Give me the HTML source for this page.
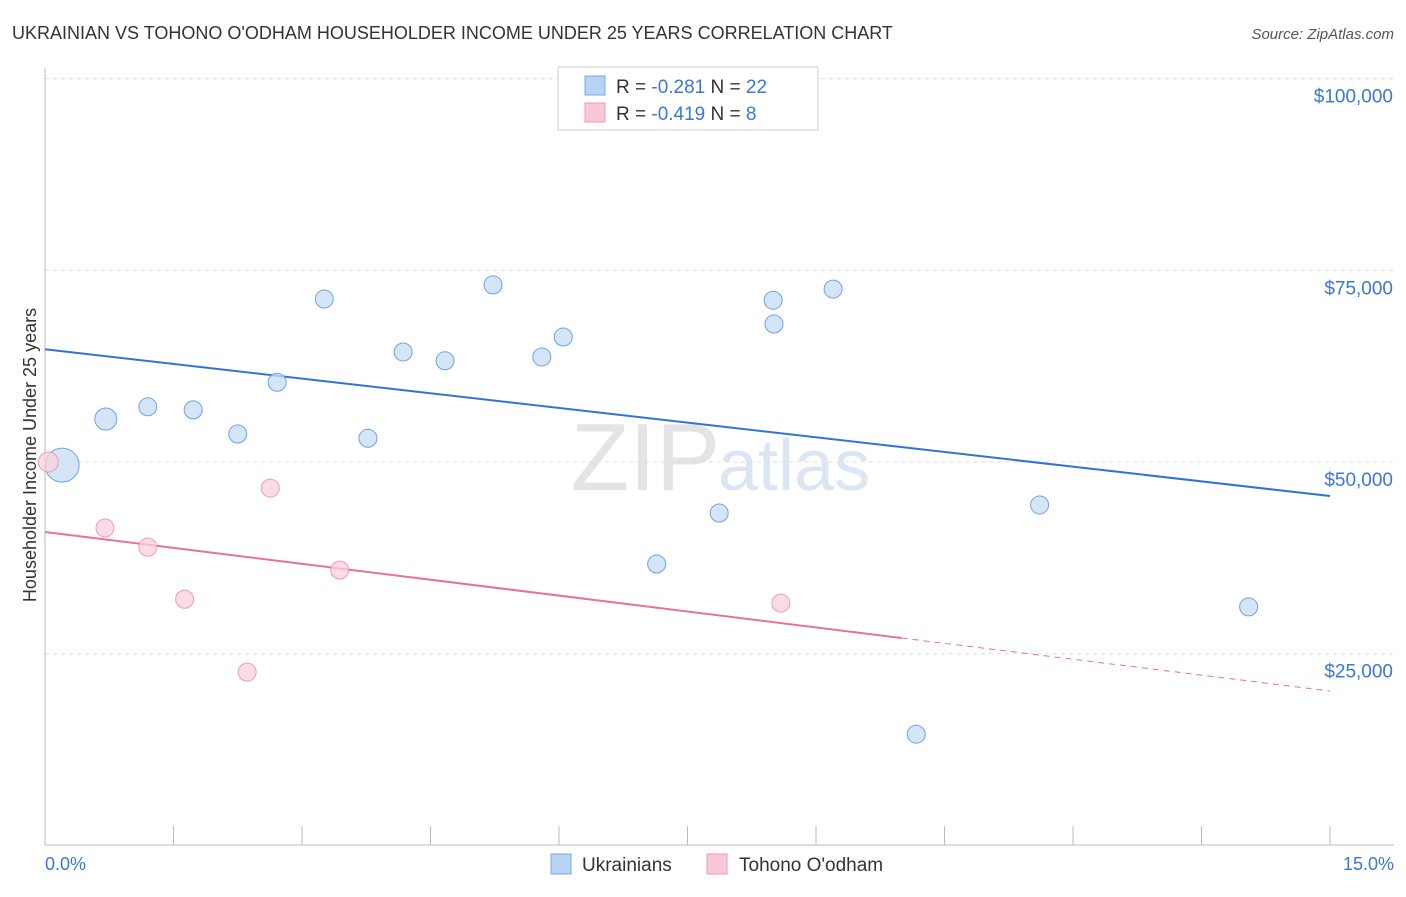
<!DOCTYPE html>
<html><head><meta charset="utf-8"><style>
body{margin:0;background:#fff;font-family:"Liberation Sans",sans-serif}
svg text{font-family:"Liberation Sans",sans-serif}
</style></head><body>
<svg width="1406" height="892" viewBox="0 0 1406 892">
<text x="12" y="39" font-size="18" fill="#333">UKRAINIAN VS TOHONO O'ODHAM HOUSEHOLDER INCOME UNDER 25 YEARS CORRELATION CHART</text>
<text x="1394" y="39" font-size="15" fill="#555" font-style="italic" text-anchor="end">Source: ZipAtlas.com</text>
<text x="720" y="490" font-size="96" fill="#e4e4e4" text-anchor="end" font-family="Liberation Serif">ZIP</text>
<text x="718" y="490" font-size="72" fill="#dbe6f4">atlas</text>
<g id="grid"></g><g id="axes"></g><g id="trend"></g><g id="pts"></g>
<text x="36" y="455" font-size="18" fill="#333" text-anchor="middle" transform="rotate(-90 36 455)">Householder Income Under 25 years</text>
<text x="45" y="870" font-size="18" fill="#3a78d4">0.0%</text>
<text x="1394" y="870" font-size="18" fill="#3a78d4" text-anchor="end">15.0%</text>
<g>
<rect x="558" y="67" width="260" height="63" fill="#fff" stroke="#ccc"/>
<rect x="585" y="76" width="20" height="19" fill="#b8d4f5" stroke="#7aa8e0"/>
<rect x="585" y="103" width="20" height="19" fill="#f9c8d6" stroke="#ef9ab4"/>
<text x="616" y="93" font-size="19" fill="#333">R = <tspan fill="#3a78d4">-0.281</tspan>   N = <tspan fill="#3a78d4">22</tspan></text>
<text x="616" y="120" font-size="19" fill="#333">R = <tspan fill="#3a78d4">-0.419</tspan>   N =   <tspan fill="#3a78d4">8</tspan></text>
</g>
<g>
<rect x="551" y="854" width="20" height="20" fill="#b8d4f5" stroke="#7aa8e0"/>
<text x="582" y="871" font-size="19" fill="#333">Ukrainians</text>
<rect x="707" y="854" width="20" height="20" fill="#f9c8d6" stroke="#ef9ab4"/>
<text x="739" y="871" font-size="19" fill="#333">Tohono O'odham</text>
</g>
</svg>
<script>
const yTicks=[25000,50000,75000,100000];
const yTickLabels=["$25,000","$50,000","$75,000","$100,000"];
const blueX=[0.2,0.71,1.2,1.73,2.25,2.71,3.26,3.77,4.18,4.67,5.23,5.80,6.05,6.95,7.14,7.87,8.50,8.51,9.20,10.17,11.61,14.05];
const blueY=[49600,55600,57200,56800,53650,60400,71250,53100,64350,63200,73100,63700,66300,94700,36700,43350,71100,68000,72550,14500,44400,31100];
const blueR=[17,11,9,9,9,9,9,9,9,9,9,9,9,9,9,9,9,9,9,9,9,9];
const pinkX=[0.04,0.70,1.2,1.63,2.36,2.63,3.44,8.59];
const pinkY=[50000,41400,38900,32100,22600,46600,35900,31600];
const pinkR=[10,9,9,9,9,9,9,9];
const blueTrend=[64700,45560];
const pinkTrend=[40870,20130];
const pinkSolidEnd=10.0;
const NS="http://www.w3.org/2000/svg";
const X=v=>45+v/15*1285;
const Y=v=>462-(v-50000)*191.7/25000;
function mk(t,a,p){const e=document.createElementNS(NS,t);for(const k in a)e.setAttribute(k,a[k]);document.getElementById(p).appendChild(e);return e;}
yTicks.forEach((t,i)=>{
 const l=mk('line',{x1:45,x2:1394,y1:Y(t),y2:Y(t),stroke:'#ddd','stroke-dasharray':'4,4'},'grid');
 
 
 const tx=mk('text',{x:1393,y:Y(t)+24,'font-size':19,fill:'#3a78d4','text-anchor':'end'},'grid');
 tx.textContent=yTickLabels[i];
 
 
});
const ax=mk('line',{x1:45,x2:1394,y1:845,y2:845,stroke:'#bbb'},'axes');


const ay=mk('line',{x1:45,x2:45,y1:68,y2:845,stroke:'#bbb'},'axes');


for(let i=1;i<=10;i++){
 const t=mk('line',{x1:X(i*1.5),x2:X(i*1.5),y1:826,y2:845,stroke:'#bbb'},'axes');
 
 
}
const bl=mk('line',{x1:X(0),y1:Y(blueTrend[0]),x2:X(15),y2:Y(blueTrend[1]),stroke:'#2f74d8','stroke-width':2},'trend');


const py=x=>pinkTrend[0]+(pinkTrend[1]-pinkTrend[0])*x/15;
const pl=mk('line',{x1:X(0),y1:Y(py(0)),x2:X(pinkSolidEnd),y2:Y(py(pinkSolidEnd)),stroke:'#e8709a','stroke-width':2},'trend');


const pd=mk('line',{x1:X(pinkSolidEnd),y1:Y(py(pinkSolidEnd)),x2:X(15),y2:Y(py(15)),stroke:'#e8709a','stroke-width':1,'stroke-dasharray':'6,5'},'trend');


blueX.forEach((x,i)=>{
 const c=mk('circle',{cx:X(x),cy:Y(blueY[i]),r:blueR[i],fill:'#c6dcf6','fill-opacity':0.75,stroke:'#6fa2e0','stroke-width':1},'pts');
 
 
});
pinkX.forEach((x,i)=>{
 const c=mk('circle',{cx:X(x),cy:Y(pinkY[i]),r:pinkR[i],fill:'#fad0dd','fill-opacity':0.75,stroke:'#ef9ab4','stroke-width':1},'pts');
 
 
});
</script>
</body></html>
